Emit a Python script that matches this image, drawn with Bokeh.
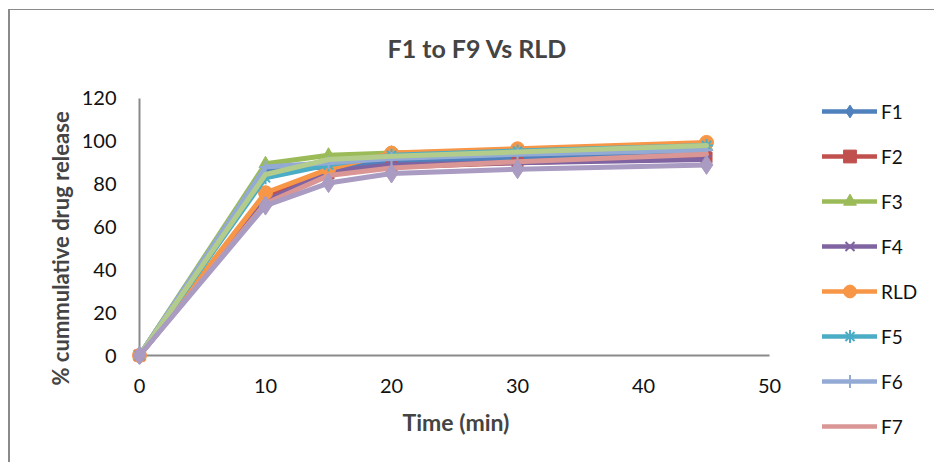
from bokeh.plotting import figure
from bokeh.layouts import row
from bokeh.models import Range1d, Legend, LegendItem, Title, FixedTicker
from bokeh.embed import file_html
from bokeh.resources import INLINE

# ---------------- data ----------------
time_min = [0, 10, 15, 20, 30, 45]
F1 = [0, 87, 88, 90, 92, 94]
F2 = [0, 74, 85, 88, 90, 92.5]
F3 = [0, 89.5, 93.5, 94.5, 95.5, 97.5]
F4 = [0, 72, 86, 89, 90, 91.5]
RLD = [0, 76, 87, 94.5, 96.5, 99.5]
F5 = [0, 83, 89, 93.5, 95.5, 98]
F6 = [0, 88, 90, 92, 94, 96]
F7 = [0, 71, 84, 87.5, 90.5, 94]
F8 = [0, 84.5, 91.5, 93, 95, 98]
F9 = [0, 70, 80.5, 85, 87, 89]

series_names = ["F1", "F2", "F3", "F4", "RLD", "F5", "F6", "F7", "F8", "F9"]
series_values = [F1, F2, F3, F4, RLD, F5, F6, F7, F8, F9]
legend_visible = ["F1", "F2", "F3", "F4", "RLD", "F5", "F6", "F7"]  # rest is cut off in the picture

x_ticks = [0, 10, 20, 30, 40, 50]
y_ticks = [0, 20, 40, 60, 80, 100, 120]

title_text = "F1 to F9 Vs RLD"
x_title = "Time (min)"
y_title = "% cummulative drug release"

# ---------------- styles ----------------
colors = ["#4F81BD", "#C0504D", "#9BBB59", "#8064A2", "#F79646",
          "#4BACC6", "#93AAD5", "#D99694", "#B3CC8C", "#A99BC1"]
markers = ["diamond", "square", "triangle", "x", "circle",
           "asterisk", "cross", "dash", "dash", "diamond"]
msizes = [16, 11, 13, 12, 14, 13, 13, 1, 1, 19]
FONT = "Lato"

H = 452
W_MAIN, W_LEG = 802, 122
MB_L, MB_T, MB_B = 110, 60, 98
X0, X1 = -1.508, 53.41
Y0, Y1 = -4.2, 133.07

p = figure(width=W_MAIN, height=H,
           x_range=Range1d(X0, X1), y_range=Range1d(Y0, Y1),
           output_backend="svg", toolbar_location=None,
           min_border_left=MB_L, min_border_right=0,
           min_border_top=MB_T, min_border_bottom=MB_B)
p.frame_align = False
p.background_fill_color = "white"
p.border_fill_color = "white"
p.outline_line_color = None
p.xgrid.visible = False
p.ygrid.visible = False

for ax, ticks in ((p.xaxis[0], x_ticks), (p.yaxis[0], y_ticks)):
    ax.ticker = FixedTicker(ticks=ticks)
    ax.axis_line_color = None
    ax.major_tick_out = 0
    ax.major_tick_in = 0
    ax.minor_tick_out = 0
    ax.minor_tick_in = 0
    ax.major_label_text_font = FONT
    ax.major_label_text_font_size = "20px"
    ax.major_label_text_color = "#111111"
p.yaxis.major_label_standoff = 4
p.xaxis.major_label_standoff = 14

# axis lines from the tick lists
p.segment(x0=[x_ticks[0]], y0=[y_ticks[0]], x1=[x_ticks[-1]], y1=[y_ticks[0]],
          line_color="#8a8a8a", line_width=2)
p.segment(x0=[x_ticks[0]], y0=[y_ticks[0]], x1=[x_ticks[0]], y1=[y_ticks[-1]],
          line_color="#8a8a8a", line_width=2)

for name, vals, c, m, s in zip(series_names, series_values, colors, markers, msizes):
    p.line(time_min, vals, line_color=c, line_width=5, line_join="round", line_cap="round")
    p.scatter(time_min, vals, marker=m, size=s, fill_color=c, line_color=c,
              line_width=2 if m in ("x", "asterisk", "cross") else 1)

p.add_layout(Title(text=title_text, align="left", offset=267, standoff=16,
                   text_font=FONT, text_font_size="25px", text_font_style="bold"), "above")
p.add_layout(Title(text=x_title, align="left", offset=282, standoff=20,
                   text_font=FONT, text_font_size="23px", text_font_style="bold"), "below")
p.add_layout(Title(text=y_title, align="left", offset=-21, standoff=10,
                   text_font=FONT, text_font_size="22px", text_font_style="bold"), "left")

# ---------------- legend panel (right) ----------------
# the series are re-plotted here outside the visible range, only to feed the legend swatches
q = figure(width=W_LEG, height=H, x_range=Range1d(1000, 1001), y_range=Range1d(1000, 1001),
           output_backend="svg", toolbar_location=None,
           x_axis_location=None, y_axis_location=None,
           min_border_left=10, min_border_right=0, min_border_top=85, min_border_bottom=0)
q.frame_align = False
q.outline_line_color = None
q.xgrid.visible = False
q.ygrid.visible = False
q.background_fill_color = "white"
q.border_fill_color = "white"

items = []
for name, vals, c, m in zip(series_names, series_values, colors, markers):
    if name not in legend_visible:
        continue
    rl = q.line(time_min, vals, line_color=c, line_width=4.5, line_cap="round")
    rm = q.scatter(time_min, vals, marker=m, fill_color=c, line_color=c, size=12,
                   line_width=2 if m in ("x", "asterisk", "cross") else 1)
    items.append(LegendItem(label=name, renderers=[rl, rm]))

legend = Legend(items=items, location="top_left", margin=0,
                padding=10, spacing=13,
                glyph_width=55, glyph_height=32, label_height=32, label_standoff=4,
                label_text_font=FONT, label_text_font_size="19px",
                label_text_color="#111111", border_line_color=None,
                background_fill_alpha=0)
q.add_layout(legend, "center")

layout = row(p, q)
layout.margin = (9, 0, 0, 8)
layout.styles = {"border-left": "2px solid #8a8a8a", "border-top": "1px solid #8a8a8a"}

open("out.html", "w").write(file_html(layout, INLINE))
